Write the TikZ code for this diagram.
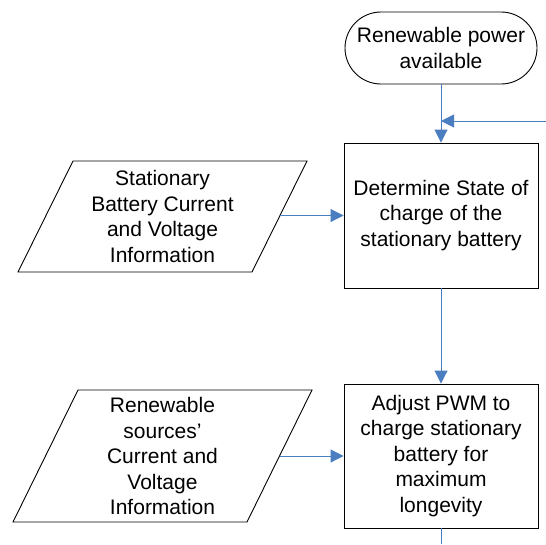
\documentclass[tikz,border=0pt]{standalone}
\usepackage{fontspec}
\setmainfont{Liberation Sans}
\usetikzlibrary{arrows.meta,shapes.misc}
\definecolor{flowblue}{HTML}{4A7EC1}
\tikzset{
  txt/.style={font=\fontsize{21}{25.5}\selectfont, align=center, inner sep=0pt},
  procbox/.style={draw=black, line width=0.9pt, minimum width=194pt, minimum height=145pt, txt},
  term/.style={draw=black, line width=0.9pt, rounded rectangle, minimum width=192pt, minimum height=72pt, txt},
  iobox/.style={draw=black, line width=0.9pt},
  flow/.style={draw=flowblue, line width=0.9pt, -{Triangle[length=13pt,width=13pt]}},
  plainflow/.style={draw=flowblue, line width=0.9pt}
}
\begin{document}
\begin{tikzpicture}[x=1pt,y=-1pt]
\useasboundingbox (0,0) rectangle (546,544);
\node[term] (start) at (441,48) {Renewable power\\available};
\node[procbox] (det) at (441,215.5) {Determine State of\\charge of the\\stationary battery};
\node[procbox, minimum height=144pt] (adj) at (441,456) {Adjust PWM to\\charge stationary\\battery for\\maximum\\longevity};
% input parallelograms
\draw[iobox] (73,161) -- (307,161) -- (252,272) -- (18,272) -- cycle;
\node[txt] (in1) at (162.5,216.5) {Stationary\\Battery Current\\and Voltage\\Information};
\coordinate (in1e) at (279.5,215.5);
\draw[iobox] (78,390) -- (312,390) -- (247,522) -- (13,522) -- cycle;
\node[txt] (in2) at (162.5,456) {Renewable\\sources’\\Current and\\Voltage\\Information};
\coordinate (in2e) at (279.5,456);
% connectors
\coordinate (loopin) at (546,121);
\coordinate (join) at (441,121);
\coordinate (outend) at (441,544);
\draw[flow] (start.south) -- (det.north);
\draw[flow] (loopin) -- (join);
\draw[flow] (det.south) -- (adj.north);
\draw[flow] (in1e) -- (det.west);
\draw[flow] (in2e) -- (adj.west);
\draw[plainflow] (adj.south) -- (outend);
\end{tikzpicture}
\end{document}
